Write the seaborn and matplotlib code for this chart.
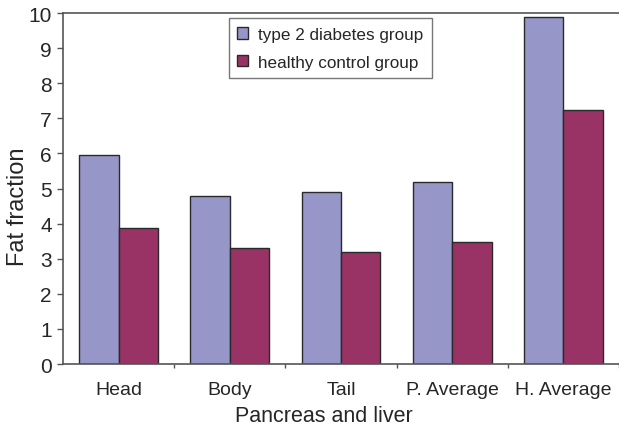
import pandas as pd
import numpy as np
import matplotlib
matplotlib.use("Agg")
import matplotlib.pyplot as plt
import seaborn as sns

# data
regions = ["Head", "Body", "Tail", "P. Average", "H. Average"]
diabetes = [5.95, 4.78, 4.89, 5.19, 9.88]
control = [3.87, 3.30, 3.20, 3.47, 7.25]
groups = ["type 2 diabetes group", "healthy control group"]
yticks = list(range(0, 11))

df = pd.DataFrame({
    "region": regions * 2,
    "value": diabetes + control,
    "group": [groups[0]] * len(regions) + [groups[1]] * len(regions),
})

sns.set_style("white")
plt.rcParams["font.family"] = ["Liberation Sans", "DejaVu Sans"]

fig = plt.figure(figsize=(6.19, 4.31), dpi=100)
ax = fig.add_axes([0.1018, 0.153, 0.8982, 0.8145])

palette = {groups[0]: "#9696C8", groups[1]: "#993366"}
sns.barplot(data=df, x="region", y="value", hue="group", order=regions,
            hue_order=groups, palette=palette, width=0.71, gap=0,
            edgecolor="#2a2a2a", linewidth=1.0, saturation=1, ax=ax)

ax.set_ylim(0, 10)
ax.set_xlim(-0.5, len(regions) - 0.5)
ax.set_yticks(yticks)
ax.set_yticklabels([str(t) for t in yticks], fontsize=15)
ax.tick_params(axis="y", left=True, length=4, width=1, color="#555555", pad=4)
ax.tick_params(axis="x", bottom=False, labelsize=14, pad=9)
ax.set_xticks(np.arange(len(regions)) + 0.5, minor=True)
ax.tick_params(axis="x", which="minor", bottom=True, length=3, width=1, color="#555555")

for side in ["left", "bottom", "top"]:
    ax.spines[side].set_visible(True)
    ax.spines[side].set_color("#555555")
    ax.spines[side].set_linewidth(1.2)
ax.spines["right"].set_visible(False)

ax.set_ylabel("Fat fraction", fontsize=17)
ax.yaxis.set_label_coords(-0.062, 0.45)
ax.set_xlabel("Pancreas and liver", fontsize=15.5)
ax.xaxis.set_label_coords(0.47, -0.118)

leg = ax.legend(loc="upper left", bbox_to_anchor=(0.298, 0.985), fontsize=12.3,
                frameon=True, fancybox=False, edgecolor="#555555",
                handlelength=0.65, handleheight=0.65, borderpad=0.5,
                labelspacing=0.75, handletextpad=0.55, borderaxespad=0)
leg.get_frame().set_linewidth(1.0)

fig.savefig("out.png", dpi=100)
